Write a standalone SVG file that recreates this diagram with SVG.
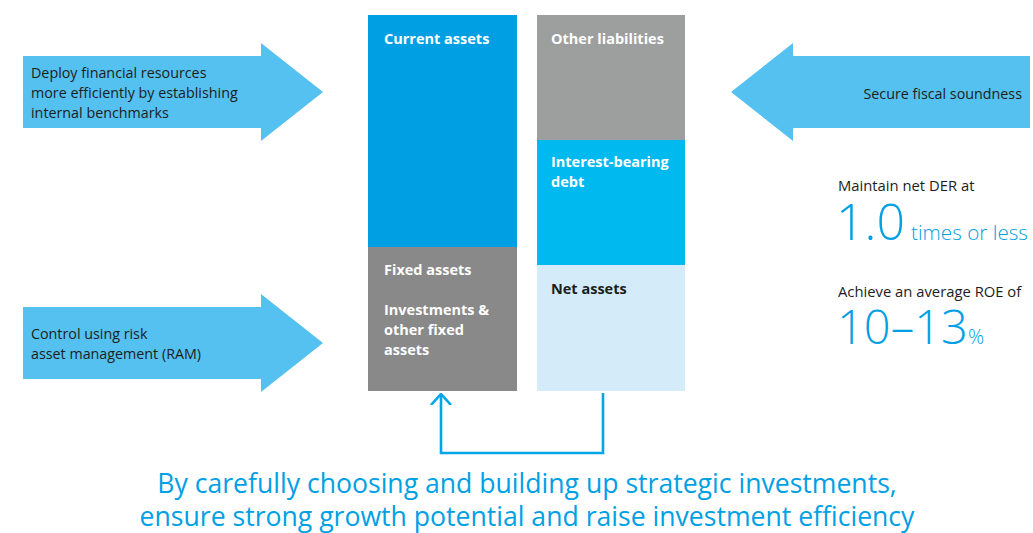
<svg xmlns="http://www.w3.org/2000/svg" width="1033" height="533" viewBox="0 0 1033 533">
<style>
.arrow{fill:#55C1F0}
.dk{font-family:"Open Sans","Noto Sans",sans-serif;font-size:14.3px;fill:#1d1d1b}
.lbl{font-family:"Open Sans","Noto Sans",sans-serif;font-size:14.5px;font-weight:bold;fill:#ffffff}
.big{font-family:"Open Sans","Noto Sans",sans-serif;font-weight:300;fill:#00A0E4}
.bot{font-family:"Open Sans","Noto Sans",sans-serif;font-size:26.6px;fill:#00A0E4;text-anchor:middle}
.conn{fill:none;stroke:#00A6E6;stroke-width:2.6}
</style>
<defs>
<marker id="open" viewBox="0 0 12 22" refX="11" refY="11" markerWidth="12" markerHeight="22" markerUnits="userSpaceOnUse" orient="auto">
<path d="M0,1 L11,11 L0,21" fill="none" stroke="#00A6E6" stroke-width="2.6"/>
</marker>
</defs>
<rect width="1033" height="533" fill="#ffffff"/>
<g id="arrow-deploy">
<polygon class="arrow" points="23,56 261,56 261,43 323,92 261,141 261,128 23,128"/>
<text class="dk" x="31" y="78">Deploy financial resources</text>
<text class="dk" x="31" y="98">more efficiently by establishing</text>
<text class="dk" x="31" y="118">internal benchmarks</text>
</g>
<g id="arrow-ram">
<polygon class="arrow" points="23,307 261,307 261,294 323,343 261,392 261,379 23,379"/>
<text class="dk" x="31" y="339">Control using risk</text>
<text class="dk" x="31" y="359">asset management (RAM)</text>
</g>
<g id="arrow-fiscal">
<polygon class="arrow" points="1030,56 793,56 793,43 731,92 793,141 793,128 1030,128"/>
<text class="dk" x="1022" y="99" text-anchor="end">Secure fiscal soundness</text>
</g>
<g id="current-assets">
<rect x="368" y="15" width="149" height="232" fill="#009FE3"/>
<text class="lbl" x="384" y="44">Current assets</text>
</g>
<g id="fixed-assets">
<rect x="368" y="247" width="149" height="144" fill="#898989"/>
<text class="lbl" x="384" y="275">Fixed assets</text>
<text class="lbl" x="384" y="315">Investments &amp;</text>
<text class="lbl" x="384" y="335">other fixed</text>
<text class="lbl" x="384" y="355">assets</text>
</g>
<g id="other-liabilities">
<rect x="537" y="15" width="148" height="125" fill="#9D9E9E"/>
<text class="lbl" x="551" y="44">Other liabilities</text>
</g>
<g id="interest-bearing-debt">
<rect x="537" y="140" width="148" height="125" fill="#00B9EF"/>
<text class="lbl" x="551" y="167">Interest-bearing</text>
<text class="lbl" x="551" y="187">debt</text>
</g>
<g id="net-assets">
<rect x="537" y="265" width="148" height="126" fill="#D4ECF9"/>
<text class="lbl" x="551" y="294" style="fill:#1d1d1b">Net assets</text>
</g>
<g id="connectors">
<polyline class="conn" points="603,393 603,453 441,453 441,394" marker-end="url(#open)"/>
</g>
<g id="targets">
<text class="dk" x="838" y="191" style="font-size:14.8px">Maintain net DER at</text>
<text class="big" x="836" y="240" style="font-size:50px">1.0</text>
<text class="big" x="911" y="240" style="font-size:20px" textLength="117" lengthAdjust="spacingAndGlyphs">times or less</text>
<text class="dk" x="838" y="297" style="font-size:14.8px">Achieve an average ROE of</text>
<text class="big" x="837" y="344" style="font-size:47px">10–13</text>
<text class="big" x="968" y="344" style="font-size:20px">%</text>
</g>
<g id="summary">
<text class="bot" x="527" y="493">By carefully choosing and building up strategic investments,</text>
<text class="bot" x="527" y="526">ensure strong growth potential and raise investment efficiency</text>
</g>
</svg>
